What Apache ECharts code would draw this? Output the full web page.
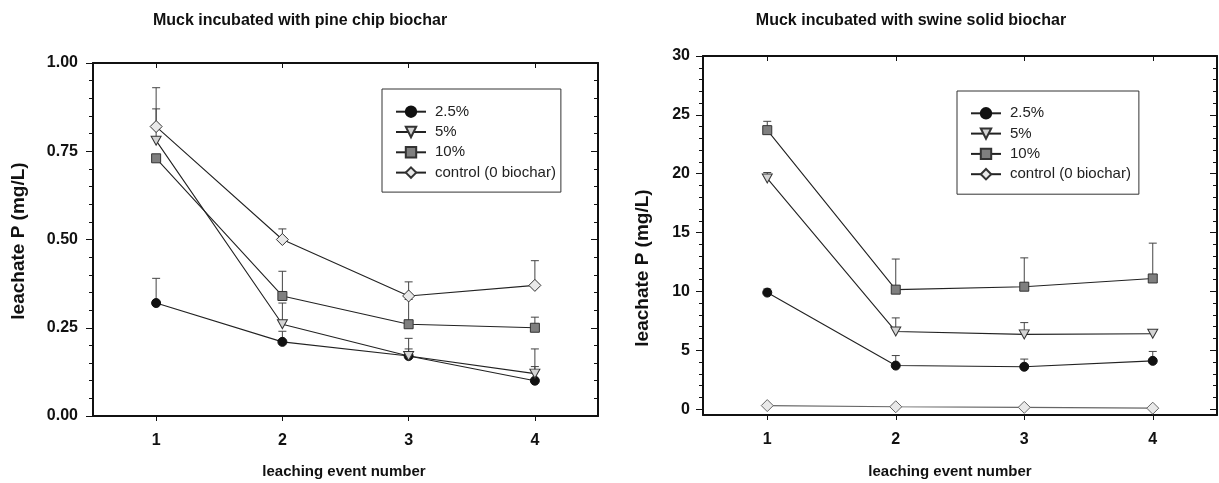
<!DOCTYPE html>
<html>
<head>
<meta charset="utf-8">
<script src="https://cdn.jsdelivr.net/npm/echarts@6/dist/echarts.min.js"></script>
<style>html,body{margin:0;padding:0;background:#fff;}#c{width:1219px;height:483px;}</style>
</head>
<body>
<div id="c"></div>
<script>
// ---- data ----
const events = [1, 2, 3, 4];
const seriesNames = ['2.5%', '5%', '10%', 'control (0 biochar)'];

// Pine chip biochar (mg/L) and upper error magnitudes
const pine25 = [0.32, 0.21, 0.17, 0.10];
const pine25Err = [0.07, 0.03, 0.02, 0.04];
const pine5 = [0.78, 0.26, 0.17, 0.12];
const pine5Err = [0.09, 0.06, 0.05, 0.07];
const pine10 = [0.73, 0.34, 0.26, 0.25];
const pine10Err = [null, 0.07, 0.07, 0.03];
const pineCtl = [0.82, 0.50, 0.34, 0.37];
const pineCtlErr = [0.11, 0.03, 0.04, 0.07];

// Swine solid biochar (mg/L)
const swine25 = [9.9, 3.7, 3.6, 4.1];
const swine25Err = [0.3, 0.85, 0.65, 0.8];
const swine5 = [19.6, 6.6, 6.35, 6.4];
const swine5Err = [0.5, 1.15, 1.0, null];
const swine10 = [23.7, 10.15, 10.4, 11.1];
const swine10Err = [0.75, 2.6, 2.45, 3.0];
const swineCtl = [0.3, 0.2, 0.15, 0.08];
const swineCtlErr = [null, null, null, null];

// tick labels
const xTicks = [1, 2, 3, 4];
const swineYTicks = [0, 5, 10, 15, 20, 25, 30];
const swineYMinor = [1, 2, 3, 4, 6, 7, 8, 9, 11, 12, 13, 14, 16, 17, 18, 19, 21, 22, 23, 24, 26, 27, 28, 29];

// ---- styling ----
const FONT = 'Liberation Sans, Arial, Helvetica, sans-serif';
const AX = '#111';
const triDown = 'path://M0,0 L10,0 L5,8.66 Z';
const markers = [
  {symbol: 'circle', symbolSize: 9, itemStyle: {color: '#111', borderColor: '#111', borderWidth: 1}},
  {symbol: triDown, symbolSize: [10, 9], itemStyle: {color: '#d4d4d4', borderColor: '#333', borderWidth: 1}},
  {symbol: 'rect', symbolSize: 9, itemStyle: {color: '#7f7f7f', borderColor: '#333', borderWidth: 1}},
  {symbol: 'diamond', symbolSize: 12, itemStyle: {color: '#e9e9e9', borderColor: '#333', borderWidth: 1}}
];

function pts(vals) { return events.map((e, i) => [e, vals[i]]); }
function errPts(vals, errs) {
  const out = [];
  events.forEach((e, i) => { if (errs[i] != null) out.push([e, vals[i], vals[i] + errs[i]]); });
  return out;
}
function errItem(color) {
  return function (params, api) {
    const x = api.value(0), y = api.value(1), t = api.value(2);
    const p0 = api.coord([x, y]), p1 = api.coord([x, t]);
    return {type: 'group', children: [
      {type: 'line', shape: {x1: p0[0], y1: p0[1], x2: p1[0], y2: p1[1]}, style: {stroke: color, lineWidth: 1}},
      {type: 'line', shape: {x1: p1[0] - 4, y1: p1[1], x2: p1[0] + 4, y2: p1[1]}, style: {stroke: color, lineWidth: 1}}
    ]};
  };
}

function xAx(grid, pos) {
  const bottom = pos === 'bottom';
  return {
    type: 'value', gridIndex: grid, position: pos, min: 0.5, max: 4.5,
    axisLine: {show: true, onZero: false, lineStyle: {color: AX, width: 2}},
    axisTick: {show: true, inside: !bottom, length: 5, customValues: xTicks, lineStyle: {color: AX, width: 1}},
    axisLabel: {show: bottom, customValues: xTicks, margin: 17, fontFamily: FONT, fontSize: 16, fontWeight: 'bold', color: '#111'},
    splitLine: {show: false}
  };
}

const grids = [
  {left: 93, top: 63, width: 505, height: 353},
  {left: 703, top: 56, width: 514, height: 359}
];

const yAxes = [
  // left panel, left side
  {type: 'value', gridIndex: 0, position: 'left', min: 0, max: 1, interval: 0.25,
    axisLine: {show: true, onZero: false, lineStyle: {color: AX, width: 2}},
    axisTick: {show: true, inside: false, length: 7, lineStyle: {color: AX}},
    minorTick: {show: true, splitNumber: 5, length: 4, lineStyle: {color: AX}},
    axisLabel: {margin: 15, formatter: v => v.toFixed(2), fontFamily: FONT, fontSize: 16, fontWeight: 'bold', color: '#111'},
    splitLine: {show: false}},
  // left panel, right side
  {type: 'value', gridIndex: 0, position: 'right', min: 0, max: 1, interval: 0.25,
    axisLine: {show: true, onZero: false, lineStyle: {color: AX, width: 2}},
    axisTick: {show: true, inside: true, length: 7, lineStyle: {color: AX}},
    minorTick: {show: true, splitNumber: 5, length: 4, lineStyle: {color: AX}},
    axisLabel: {show: false}, splitLine: {show: false}},
  // right panel, left side major
  {type: 'value', gridIndex: 1, position: 'left', min: -0.5, max: 30,
    axisLine: {show: true, onZero: false, lineStyle: {color: AX, width: 2}},
    axisTick: {show: true, inside: false, length: 7, customValues: swineYTicks, lineStyle: {color: AX}},
    axisLabel: {customValues: swineYTicks, margin: 13, fontFamily: FONT, fontSize: 16, fontWeight: 'bold', color: '#111'},
    splitLine: {show: false}},
  // right panel, right side major
  {type: 'value', gridIndex: 1, position: 'right', min: -0.5, max: 30,
    axisLine: {show: true, onZero: false, lineStyle: {color: AX, width: 2}},
    axisTick: {show: true, inside: true, length: 7, customValues: swineYTicks, lineStyle: {color: AX}},
    axisLabel: {show: false}, splitLine: {show: false}},
  // right panel, minor ticks left
  {type: 'value', gridIndex: 1, position: 'left', min: -0.5, max: 30,
    axisLine: {show: false, onZero: false},
    axisTick: {show: true, inside: false, length: 4, customValues: swineYMinor, lineStyle: {color: AX}},
    axisLabel: {show: false}, splitLine: {show: false}},
  // right panel, minor ticks right
  {type: 'value', gridIndex: 1, position: 'right', min: -0.5, max: 30,
    axisLine: {show: false, onZero: false},
    axisTick: {show: true, inside: true, length: 4, customValues: swineYMinor, lineStyle: {color: AX}},
    axisLabel: {show: false}, splitLine: {show: false}}
];

const pineVals = [pine25, pine5, pine10, pineCtl];
const pineErrs = [pine25Err, pine5Err, pine10Err, pineCtlErr];
const swineVals = [swine25, swine5, swine10, swineCtl];
const swineErrs = [swine25Err, swine5Err, swine10Err, swineCtlErr];

const series = [];
function addPanel(vals, errs, xi, yi, ctlColor) {
  vals.forEach((v, k) => {
    const data = errPts(v, errs[k]);
    if (data.length) series.push({
      type: 'custom', xAxisIndex: xi, yAxisIndex: yi, z: 1, silent: true,
      renderItem: errItem('#444'), encode: {x: 0, y: [1, 2]}, data: data
    });
  });
  vals.forEach((v, k) => {
    const m = markers[k];
    const lineColor = (k === 3 && ctlColor) ? ctlColor : '#222';
    const itemStyle = Object.assign({}, m.itemStyle);
    if (k === 3 && ctlColor) itemStyle.borderColor = ctlColor;
    series.push({
      type: 'line', name: seriesNames[k], xAxisIndex: xi, yAxisIndex: yi, z: 3,
      data: pts(v), symbol: m.symbol, symbolSize: m.symbolSize, showSymbol: true,
      itemStyle: itemStyle, lineStyle: {color: lineColor, width: 1.1},
      emphasis: {disabled: true}, animation: false
    });
  });
}
addPanel(pineVals, pineErrs, 0, 0, null);
addPanel(swineVals, swineErrs, 2, 2, '#666');

function legendCfg(left, top, pad) {
  return {
    left: left, top: top, orient: 'vertical', data: seriesNames, selectedMode: false,
    itemWidth: 30, itemHeight: 13, itemGap: 5.3, padding: pad,
    borderColor: '#333', borderWidth: 1, backgroundColor: '#fff',
    textStyle: {fontFamily: FONT, fontSize: 15, lineHeight: 13, color: '#222', padding: [0, 0, 0, 4]}
  };
}

function txt(x, y, s, size, rot) {
  return {type: 'text', x: x, y: y, rotation: rot || 0,
    style: {text: s, fontFamily: FONT, fontSize: size, fontWeight: 'bold', fill: '#111', align: 'center', verticalAlign: 'middle'}};
}

const option = {
  animation: false,
  backgroundColor: '#fff',
  grid: grids,
  xAxis: [xAx(0, 'bottom'), xAx(0, 'top'), xAx(1, 'bottom'), xAx(1, 'top')],
  yAxis: yAxes,
  legend: [legendCfg(382, 89, [15.2, 5, 12, 13]), legendCfg(957, 91, [14.8, 8, 12.5, 13])],
  series: series,
  graphic: [
    txt(300, 21, 'Muck incubated with pine chip biochar', 16),
    txt(911, 21, 'Muck incubated with swine solid biochar', 16),
    txt(19, 241, 'leachate P (mg/L)', 19, Math.PI / 2),
    txt(643, 268, 'leachate P (mg/L)', 19, Math.PI / 2),
    txt(344, 472, 'leaching event number', 15),
    txt(950, 472, 'leaching event number', 15)
  ]
};
const chart = echarts.init(document.getElementById('c'), null, {renderer: 'canvas'});
chart.setOption(option);
</script>
</body>
</html>
